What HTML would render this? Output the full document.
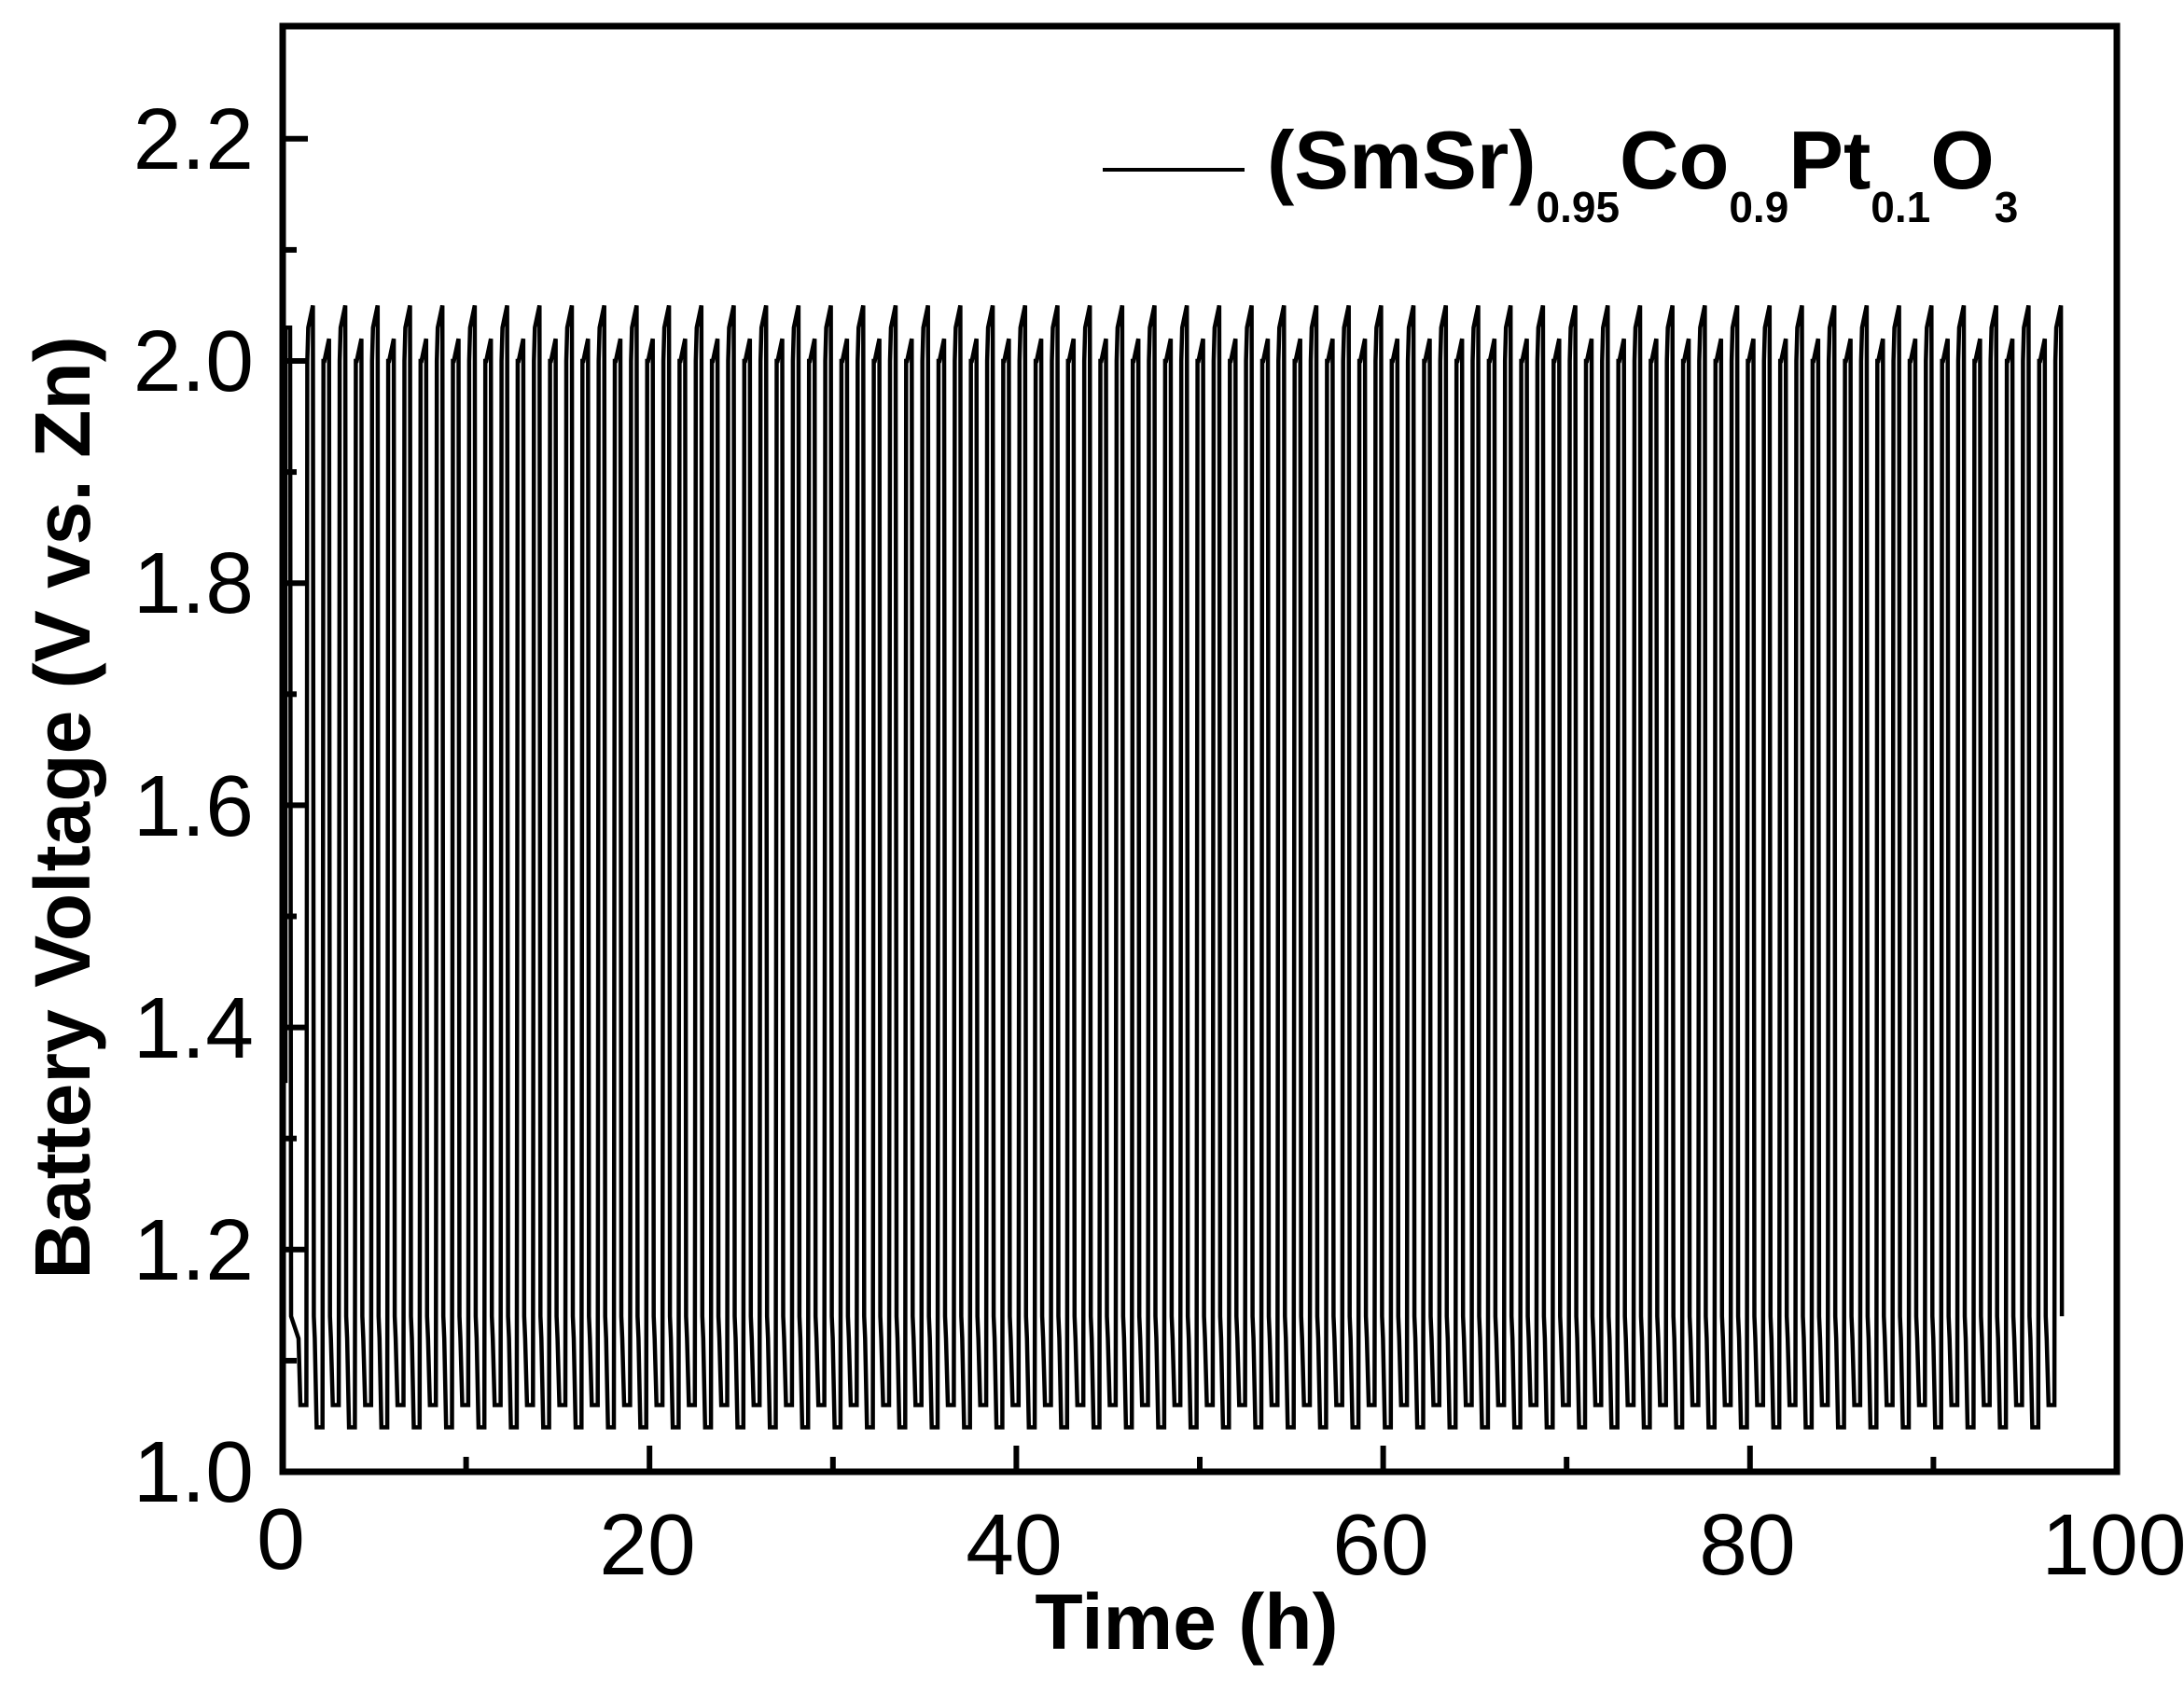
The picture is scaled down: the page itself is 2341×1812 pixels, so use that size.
<!DOCTYPE html>
<html><head><meta charset="utf-8"><style>
html,body{margin:0;padding:0;background:#fff;}
svg{display:block;}
text{font-family:"Liberation Sans",Arial,sans-serif;fill:#000;}
</style></head><body>
<svg id="s" width="2341" height="1812" viewBox="0 0 2341 1812" xmlns="http://www.w3.org/2000/svg">
<g id="wave"></g>
<rect x="303" y="28" width="1966" height="1550" fill="none" stroke="#000" stroke-width="7"/>
<g stroke="#000" stroke-width="6" id="ticks"></g>
<g font-size="93" text-anchor="end">
<text x="272" y="1610">1.0</text>
<text x="272" y="1372">1.2</text>
<text x="272" y="1134">1.4</text>
<text x="272" y="896">1.6</text>
<text x="272" y="657">1.8</text>
<text x="272" y="419">2.0</text>
<text x="272" y="181">2.2</text>
</g>
<g font-size="93" text-anchor="middle">
<text x="301" y="1682">0</text>
<text x="694" y="1688">20</text>
<text x="1087" y="1688">40</text>
<text x="1480" y="1688">60</text>
<text x="1873" y="1688">80</text>
<text x="2266" y="1688">100</text>
</g>
<text x="1272" y="1768" font-size="84" font-weight="bold" text-anchor="middle">Time (h)</text>
<text transform="translate(96,866) rotate(-90)" font-size="84" font-weight="bold" text-anchor="middle">Battery Voltage (V vs. Zn)</text>
<line x1="1182" y1="182" x2="1334" y2="182" stroke="#000" stroke-width="4"/>
<text x="1358" y="202" font-size="88" font-weight="bold">(SmSr)<tspan font-size="46" dy="36">0.95</tspan><tspan dy="-36">Co</tspan><tspan font-size="46" dy="36">0.9</tspan><tspan dy="-36">Pt</tspan><tspan font-size="46" dy="36">0.1</tspan><tspan dy="-36">O</tspan><tspan font-size="46" dy="36">3</tspan></text>
</svg>
<script>
(function(){
var ns="http://www.w3.org/2000/svg";
var Y=function(v){return 1578-(v-1)*1191;};
var tk=document.getElementById("ticks");
function ln(x1,y1,x2,y2){var l=document.createElementNS(ns,"line");l.setAttribute("x1",x1);l.setAttribute("y1",y1);l.setAttribute("x2",x2);l.setAttribute("y2",y2);tk.appendChild(l);}
for(var i=1;i<=12;i++){var y=Y(1+i*0.1);ln(303,y,(i%2==0)?330:318,y);}
for(var i=1;i<10;i++){var x=303+i*196.6;ln(x,1578,x,(i%2==0)?1550:1562);}
var f=function(n){return n.toFixed(1);};
var d="M306 "+f(Y(1.35))+" L306 "+f(Y(2.03));
var P=17.35,x=306,k=0,xEnd=2200;
d+=" L311 "+f(Y(2.03))+" L312 "+f(Y(1.14));
x=312;
while(x<xEnd){
  var top=(k%2==0)?2.05:2.02;
  var bot=(k%2==0)?1.06:1.04;
  d+=" L"+f(x+8)+" "+f(Y(1.12))+" L"+f(x+10)+" "+f(Y(bot))+" L"+f(x+P-1)+" "+f(Y(bot));
  d+=" L"+f(x+P)+" "+f(Y(2.0))+" L"+f(x+P+1)+" "+f(Y(top-0.02))+" L"+f(x+P+6)+" "+f(Y(top));
  d+=" L"+f(x+P+7)+" "+f(Y(1.14));
  x+=P;k++;
}
var p=document.createElementNS(ns,"path");
p.setAttribute("d",d);p.setAttribute("fill","none");p.setAttribute("stroke","#000");p.setAttribute("stroke-width","4.5");
document.getElementById("wave").appendChild(p);
})();
</script>
</body></html>
